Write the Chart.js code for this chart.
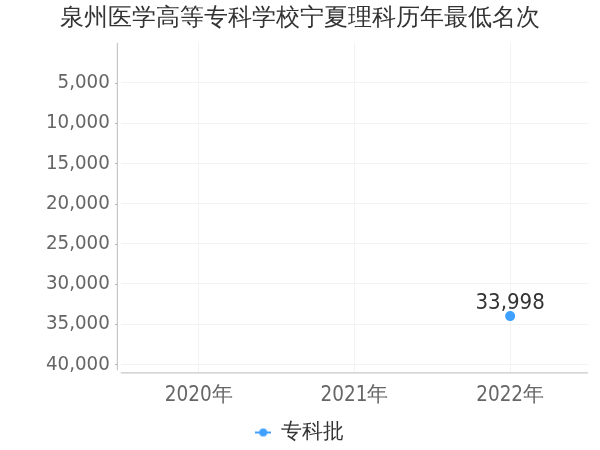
<!DOCTYPE html>
<html><head><meta charset="utf-8">
<script src="https://cdn.jsdelivr.net/npm/chart.js@4/dist/chart.umd.min.js"></script>
<style>html,body{margin:0;padding:0;background:#fff}#wrap{width:600px;height:450px}</style>
</head><body><div id="wrap"><canvas id="c"></canvas></div>
<script>
const categories = ['2020年', '2021年', '2022年'];
const seriesName = '专科批';
const seriesValues = [null, null, 33998];
const yTicks = [5000, 10000, 15000, 20000, 25000, 30000, 35000, 40000];

const FONT = "'DejaVu Sans Condensed', 'DejaVu Sans', sans-serif";
const COLOR = '#3fa0ff';

const icon = document.createElement('canvas');
icon.width = 16; icon.height = 10;
(function(){
  const c = icon.getContext('2d');
  c.strokeStyle = COLOR; c.lineWidth = 2;
  c.beginPath(); c.moveTo(0, 5); c.lineTo(16, 5); c.stroke();
  c.fillStyle = COLOR;
  c.beginPath(); c.arc(8, 5, 4, 0, Math.PI * 2); c.fill();
})();

const labelPlugin = {
  id: 'valLabels',
  afterDatasetsDraw(chart) {
    const ctx = chart.ctx;
    const meta = chart.getDatasetMeta(0);
    ctx.save();
    ctx.font = '22px ' + FONT;
    ctx.fillStyle = '#333';
    ctx.textAlign = 'center';
    ctx.textBaseline = 'bottom';
    meta.data.forEach((pt, i) => {
      const v = seriesValues[i];
      if (v == null) return;
      ctx.fillText(v.toLocaleString('en-US'), pt.x, pt.y - 2);
    });
    ctx.restore();
  }
};

const axisPlugin = {
  id: 'axisLines',
  afterDraw(chart) {
    const { ctx, chartArea: a } = chart;
    const y = chart.scales.y;
    ctx.save();
    ctx.strokeStyle = '#bbb';
    ctx.lineWidth = 1;
    ctx.beginPath();
    ctx.moveTo(a.left - 3.5, a.top);
    ctx.lineTo(a.left - 3.5, a.bottom - 2);
    yTicks.forEach(v => {
      const py = Math.round(y.getPixelForValue(v)) + 0.5;
      ctx.moveTo(a.left - 6, py);
      ctx.lineTo(a.left - 3.5, py);
    });
    ctx.moveTo(a.left, a.bottom + 0.5);
    ctx.lineTo(a.right, a.bottom + 0.5);
    ctx.stroke();
    ctx.restore();
  }
};

new Chart(document.getElementById('c'), {
  type: 'line',
  data: {
    labels: categories,
    datasets: [{
      label: seriesName,
      data: seriesValues,
      borderColor: COLOR,
      backgroundColor: COLOR,
      pointRadius: 4,
      pointHoverRadius: 4,
      borderWidth: 2,
      pointStyle: 'circle'
    }]
  },
  options: {
    responsive: true,
    maintainAspectRatio: false,
    animation: false,
    layout: { padding: { left: 12, right: 12, top: 0, bottom: -3 } },
    plugins: {
      title: {
        display: true,
        text: '泉州医学高等专科学校宁夏理科历年最低名次',
        color: '#333',
        font: { family: FONT, size: 24, weight: 'normal' },
        padding: { top: 4, bottom: 10 }
      },
      legend: {
        position: 'bottom',
        labels: {
          color: '#333',
          font: { family: FONT, size: 21 },
          usePointStyle: true,
          pointStyle: icon,
          pointStyleWidth: 14,
          padding: 3,
          generateLabels(chart) {
            return [{ text: seriesName, pointStyle: icon, fillStyle: COLOR, strokeStyle: COLOR, lineWidth: 0, datasetIndex: 0, fontColor: '#333' }];
          }
        }
      },
      tooltip: { enabled: false }
    },
    scales: {
      x: {
        offset: true,
        grid: { display: true, offset: false, color: '#f3f3f3', drawTicks: false },
        border: { display: false },
        ticks: { color: '#666', font: { family: FONT, size: 20.5 }, padding: 11 }
      },
      y: {
        reverse: true,
        min: 0,
        max: 41000,
        afterBuildTicks(scale) { scale.ticks = yTicks.map(v => ({ value: v })); },
        afterFit(scale) { scale.width += 23; },
        grid: { color: '#f3f3f3', drawTicks: false },
        border: { display: false },
        ticks: {
          color: '#666',
          font: { family: FONT, size: 20.3 },
          padding: 11,
          callback: v => Number(v).toLocaleString('en-US')
        }
      }
    }
  },
  plugins: [labelPlugin, axisPlugin]
});
</script></body></html>
